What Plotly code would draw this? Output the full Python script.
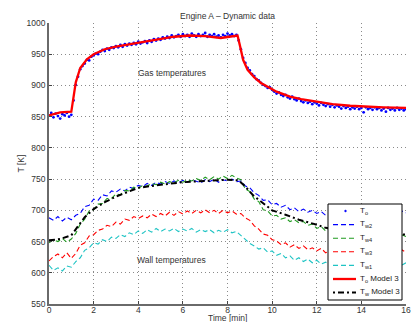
import plotly.graph_objects as go

# ---------------- data ----------------
GAS_T0 = 0.0
GAS_DT = 0.1
T_O = [
    852, 856, 849, 855, 851, 847, 854, 852, 856, 850,
    853, 876, 901, 914, 926, 931, 935, 941, 940, 946,
    948, 951, 950, 954, 957, 955, 959, 957, 961, 960,
    963, 961, 965, 962, 966, 964, 967, 965, 968, 966,
    970, 967, 969, 971, 968, 972, 970, 974, 972, 975,
    973, 977, 975, 978, 976, 980, 977, 979, 981, 978,
    982, 979, 981, 978, 983, 980, 978, 982, 979, 981,
    984, 978, 981, 979, 982, 978, 980, 977, 981, 979,
    983, 980, 982, 979, 981, 972, 958, 944, 936, 928,
    924, 918, 915, 910, 908, 904, 901, 899, 896, 897,
    893, 890, 887, 889, 885, 883, 885, 881, 879, 882,
    878, 876, 879, 875, 873, 876, 872, 874, 870, 873,
    871, 868, 872, 869, 867, 870, 866, 869, 865, 868,
    866, 863, 867, 864, 866, 862, 865, 863, 866, 862,
    864, 857, 865, 862, 864, 861, 865, 862, 864, 860,
    863, 858, 864, 861, 863, 860, 864, 861, 863, 860,
    862,
]
TIME_GAS = [round(GAS_T0 + i * GAS_DT, 1) for i in range(len(T_O))]

WALL_DT = 0.2
T_W2 = [
    688, 684, 690, 683, 689, 685, 692, 695, 706, 708,
    718, 716, 725, 723, 731, 729, 734, 731, 737, 735,
    740, 738, 743, 740, 745, 742, 746, 743, 747, 744,
    748, 745, 749, 746, 744, 749, 746, 750, 745, 749,
    747, 750, 746, 747, 739, 736, 728, 724, 716, 717,
    709, 711, 705, 708, 701, 704, 698, 702, 697, 700,
    695, 698, 692, 695, 690, 694, 691, 695, 692, 696,
    693, 697, 693, 698, 694, 698, 695, 699, 695, 699,
    696,
]
T_W4 = [
    648, 653, 650, 655, 649, 654, 663, 678, 686, 699,
    701, 710, 711, 719, 719, 726, 725, 732, 731, 737,
    735, 740, 739, 743, 741, 745, 742, 746, 744, 748,
    745, 749, 747, 751, 748, 753, 749, 754, 750, 755,
    751, 756, 752, 749, 734, 730, 718, 714, 701, 699,
    691, 692, 686, 688, 682, 685, 680, 682, 676, 678,
    671, 674, 667, 671, 665, 669, 664, 668, 662, 666,
    661, 665, 660, 664, 659, 663, 658, 662, 657, 661,
    658,
]
T_W3 = [
    619, 626, 630, 624, 632, 623, 631, 644, 648, 659,
    661, 668, 670, 676, 674, 681, 678, 686, 684, 690,
    687, 691, 688, 694, 690, 695, 691, 697, 692, 698,
    694, 699, 695, 700, 696, 701, 696, 700, 695, 700,
    696, 699, 694, 695, 688, 684, 675, 670, 662, 660,
    653, 651, 645, 648, 641, 645, 639, 643, 637, 640,
    635, 639, 632, 636, 631, 635, 630, 636, 631, 637,
    632, 637, 631, 638, 632, 637, 633, 638, 632, 637,
    633,
]
T_W1 = [
    612, 604, 608, 603, 611, 609, 618, 624, 636, 640,
    648, 646, 653, 650, 657, 655, 661, 658, 664, 661,
    667, 663, 669, 665, 671, 666, 670, 667, 671, 666,
    670, 667, 671, 665, 669, 666, 669, 664, 668, 665,
    669, 664, 666, 660, 654, 647, 643, 638, 640, 633,
    635, 628, 631, 624, 627, 620, 624, 618, 622, 616,
    620, 614, 617, 612, 616, 611, 616, 612, 617, 612,
    617, 613, 618, 613, 617, 612, 617, 613, 618, 612,
    616,
]
TIME_WALL = [round(i * WALL_DT, 1) for i in range(len(T_W2))]

MODEL_O_TIME = [0, 0.5, 1.0, 1.1, 1.2, 1.4, 1.7, 2.0, 2.5, 3.0, 3.5, 4.0, 5.0, 5.6,
                6.3, 7.0, 7.7, 8.3, 8.45, 8.55, 8.7, 8.9, 9.2, 9.5, 9.8, 10.2, 10.8,
                11.3, 12.0, 12.7, 13.5, 14.2, 15.0, 16.0]
MODEL_O = [852, 857, 858, 880, 905, 928, 942, 950, 958, 962, 965, 968, 974, 978,
           980, 979, 976, 980, 980, 965, 941, 925, 913, 904, 898, 890, 882,
           878, 874, 870, 867.5, 866, 865, 864]

MODEL_W_TIME = [0, 0.5, 1.0, 1.3, 1.6, 2.0, 2.5, 3.0, 3.5, 4.0, 5.0, 6.0, 7.0, 8.0,
                8.5, 8.8, 9.15, 9.75, 10.0, 10.6, 11.2, 12.0, 12.4, 13.0, 14.0, 15.0, 16.0]
MODEL_W = [652, 654, 660, 674, 689, 702, 713, 722, 729, 736, 741, 745, 747, 749,
           748, 738, 724, 706, 700, 693, 685, 677, 672, 669, 666, 663, 661]

X_TICKS = [0, 2, 4, 6, 8, 10, 12, 14, 16]
Y_TICKS = [550, 600, 650, 700, 750, 800, 850, 900, 950, 1000]

SERIES_NAMES = ["T<sub>o</sub>", "T<sub>w2</sub>", "T<sub>w4</sub>", "T<sub>w3</sub>",
                "T<sub>w1</sub>", "T<sub>o</sub> Model 3", "T<sub>w</sub> Model 3"]

# ---------------- style / layout ----------------
FONT = "Liberation Sans, Arial, Helvetica, sans-serif"
TXT = "#333333"
BLUE, GREEN, RED, CYAN, BLACK = "#0000ff", "#1f9a1f", "#ff0000", "#1fc4c4", "#000000"
W, H = 412, 322
ML, MR, MT, MB = 49, 6, 23, 18
PW, PH = W - ML - MR, H - MT - MB


def px2x(px):
    return (px - ML) / PW


def py2y(py):
    return (H - MB - py) / PH


fig = go.Figure()
fig.add_trace(go.Scatter(x=TIME_GAS, y=T_O, mode="markers", name=SERIES_NAMES[0],
                         marker=dict(color=BLUE, size=2.8)))
fig.add_trace(go.Scatter(x=TIME_WALL, y=T_W2, mode="lines", name=SERIES_NAMES[1],
                         line=dict(color=BLUE, width=1.1, dash="5px,3px")))
fig.add_trace(go.Scatter(x=TIME_WALL, y=T_W4, mode="lines", name=SERIES_NAMES[2],
                         line=dict(color=GREEN, width=1.1, dash="5px,3px")))
fig.add_trace(go.Scatter(x=TIME_WALL, y=T_W3, mode="lines", name=SERIES_NAMES[3],
                         line=dict(color=RED, width=1.1, dash="5px,3px")))
fig.add_trace(go.Scatter(x=TIME_WALL, y=T_W1, mode="lines", name=SERIES_NAMES[4],
                         line=dict(color=CYAN, width=1.1, dash="5px,3px")))
fig.add_trace(go.Scatter(x=MODEL_O_TIME, y=MODEL_O, mode="lines", name=SERIES_NAMES[5],
                         line=dict(color=RED, width=2.3)))
fig.add_trace(go.Scatter(x=MODEL_W_TIME, y=MODEL_W, mode="lines", name=SERIES_NAMES[6],
                         line=dict(color=BLACK, width=2, dash="6px,3px,2px,3px")))

axis_common = dict(
    showgrid=True, gridcolor="#8a8a8a", griddash="1px,3px", gridwidth=1,
    showline=True, linecolor="#6a6a6a", linewidth=1.6, mirror=False,
    ticks="inside", ticklen=3, tickcolor="#444", zeroline=False, automargin=False,
    tickfont=dict(family=FONT, size=8.5, color=TXT),
)
fig.update_xaxes(range=[0, 16], tickvals=X_TICKS, ticklabelstandoff=-3, **axis_common)
fig.update_yaxes(range=[550, 1000], tickvals=Y_TICKS, **axis_common,
                 title=dict(text="T [K]", font=dict(family=FONT, size=8.5, color=TXT), standoff=1))

# x-axis title placed just below the tick labels, like the reference
fig.add_annotation(xref="paper", yref="paper", x=0.5, y=py2y(317.5), xanchor="center", yanchor="middle",
                   text="Time [min]", showarrow=False, borderpad=0,
                   font=dict(family=FONT, size=8.5, color=TXT))

fig.add_annotation(x=5.5, y=920, text="Gas temperatures", showarrow=False,
                   font=dict(family=FONT, size=8.5, color=TXT))
fig.add_annotation(x=5.5, y=620, text="Wall temperatures", showarrow=False,
                   font=dict(family=FONT, size=8.5, color=TXT))

# ---- hand-built compact legend (MATLAB-style box) ----
shapes = [dict(type="rect", xref="paper", yref="paper", layer="above",
               x0=px2x(328), x1=px2x(402), y0=py2y(300), y1=py2y(204),
               line=dict(color="black", width=1), fillcolor="white")]
leg_styles = [
    ("dot", BLUE, 0, None),
    ("line", BLUE, 1.1, "5px,3px"),
    ("line", GREEN, 1.1, "5px,3px"),
    ("line", RED, 1.1, "5px,3px"),
    ("line", CYAN, 1.1, "5px,3px"),
    ("line", RED, 2.3, "solid"),
    ("line", BLACK, 2, "2px,3px,6px,3px"),
]
ROW0, ROWSTEP = 211, 13.6
for i, (kind, col, lw, dash) in enumerate(leg_styles):
    ry = ROW0 + i * ROWSTEP
    if kind == "dot":
        shapes.append(dict(type="circle", xref="paper", yref="paper", layer="above",
                           x0=px2x(344.6), x1=px2x(346.4), y0=py2y(ry + 0.9), y1=py2y(ry - 0.9),
                           line=dict(color=col, width=0.5), fillcolor=col))
    else:
        shapes.append(dict(type="line", xref="paper", yref="paper", layer="above",
                           x0=px2x(333), x1=px2x(356), y0=py2y(ry), y1=py2y(ry),
                           line=dict(color=col, width=lw, dash=dash)))
    fig.add_annotation(xref="paper", yref="paper", x=px2x(358), y=py2y(ry - 0.5),
                       xanchor="left", yanchor="middle", text=SERIES_NAMES[i], showarrow=False,
                       font=dict(family=FONT, size=8, color="#222"))

fig.update_layout(
    width=W, height=H,
    margin=dict(l=ML, r=MR, t=MT, b=MB),
    paper_bgcolor="white", plot_bgcolor="white",
    title=dict(text="Engine A \u2013 Dynamic data", x=0.5, xref="paper", xanchor="center",
               y=1, yref="paper", yanchor="bottom", pad=dict(b=4),
               font=dict(family=FONT, size=8.5, color=TXT)),
    font=dict(family=FONT, size=8.5, color="#222"),
    showlegend=False,
    shapes=shapes,
)

fig.write_html("out.html", config={"displayModeBar": False},
               post_script="document.body.style.margin='0';document.body.style.overflow='hidden';")
